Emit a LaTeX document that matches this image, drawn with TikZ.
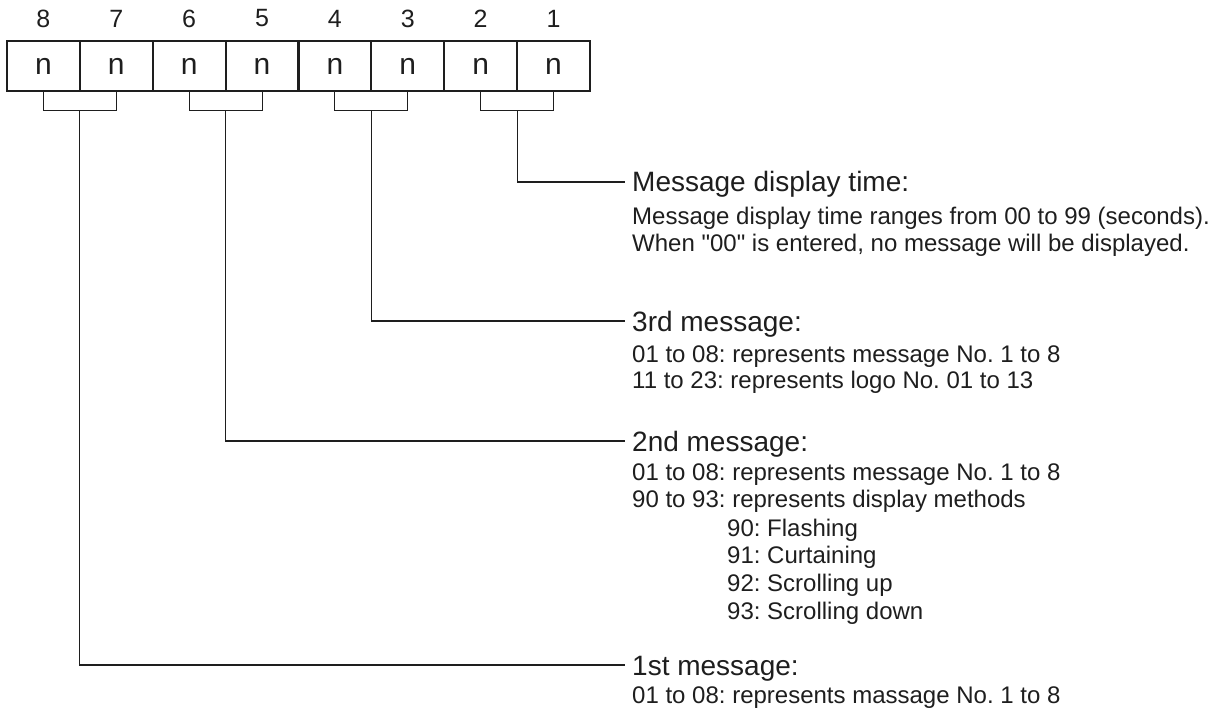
\documentclass[tikz,border=0pt]{standalone}
\usepackage{fontspec}
\setmainfont{Liberation Sans}[Ligatures=TeXOff]
\usetikzlibrary{calc}
\definecolor{ink}{HTML}{1E1E1E}
\frenchspacing
\begin{document}
\frenchspacing
\begin{tikzpicture}[x=1pt,y=-1pt,
  cell/.style={draw=ink, line width=2.2pt, minimum width=72.875pt, minimum height=49.4pt, inner sep=0pt, font=\fontsize{30}{30}\selectfont, text=ink},
  digit/.style={inner sep=0pt, font=\fontsize{25}{25}\selectfont, text=ink},
  head/.style={anchor=base west, inner xsep=7pt, inner ysep=0pt, text height=20pt, text depth=0pt, font=\fontsize{28}{28}\selectfont\frenchspacing, text=ink},
  sub/.style={anchor=base west, inner sep=0pt, font=\fontsize{24}{24}\selectfont\frenchspacing, text=ink},
  link/.style={draw=ink, line width=1.1pt}
]
\useasboundingbox (0,0) rectangle (1220,711);
\foreach \i in {1,...,8} {
  \pgfmathsetmacro\cx{7+72.875*(8-\i)+36.4375}
  \node[cell] (b\i) at (\cx,66) {n};
  \node[digit] (d\i) at (\cx,18.5) {\i};
}
\foreach \a/\b/\k in {8/7/4,6/5/3,4/3/2,2/1/1} {
  \draw[link] (b\a.south) -- ++(0,18.3) -| (b\b.south);
  \coordinate (k\k) at ($(b\a.south)!0.5!(b\b.south)+(0,18.3)$);
}
\node[head] (h1) at (625,192) {Message display time:};
\node[head] (h2) at (625,331) {3rd message:};
\node[head] (h3) at (625,451) {2nd message:};
\node[head] (h4) at (625,675) {1st message:};
\draw[link] (k1) |- (h1.west);
\draw[link] (k2) |- (h2.west);
\draw[link] (k3) |- (h3.west);
\draw[link] (k4) |- (h4.west);
\node[sub] (t11) at (632,225) {Message display time ranges from 00 to 99 (seconds).};
\node[sub] (t12) at (632,252) {When "00" is entered, no message will be displayed.};
\node[sub] (t21) at (632,362) {01 to 08: represents message No. 1 to 8};
\node[sub] (t22) at (632,388) {11 to 23: represents logo No. 01 to 13};
\node[sub] (t31) at (632,480) {01 to 08: represents message No. 1 to 8};
\node[sub] (t32) at (632,507) {90 to 93: represents display methods};
\node[sub] (t33) at (727,536) {90: Flashing};
\node[sub] (t34) at (727,563) {91: Curtaining};
\node[sub] (t35) at (727,591) {92: Scrolling up};
\node[sub] (t36) at (727,619) {93: Scrolling down};
\node[sub] (t41) at (632,703) {01 to 08: represents massage No. 1 to 8};
\end{tikzpicture}
\end{document}
